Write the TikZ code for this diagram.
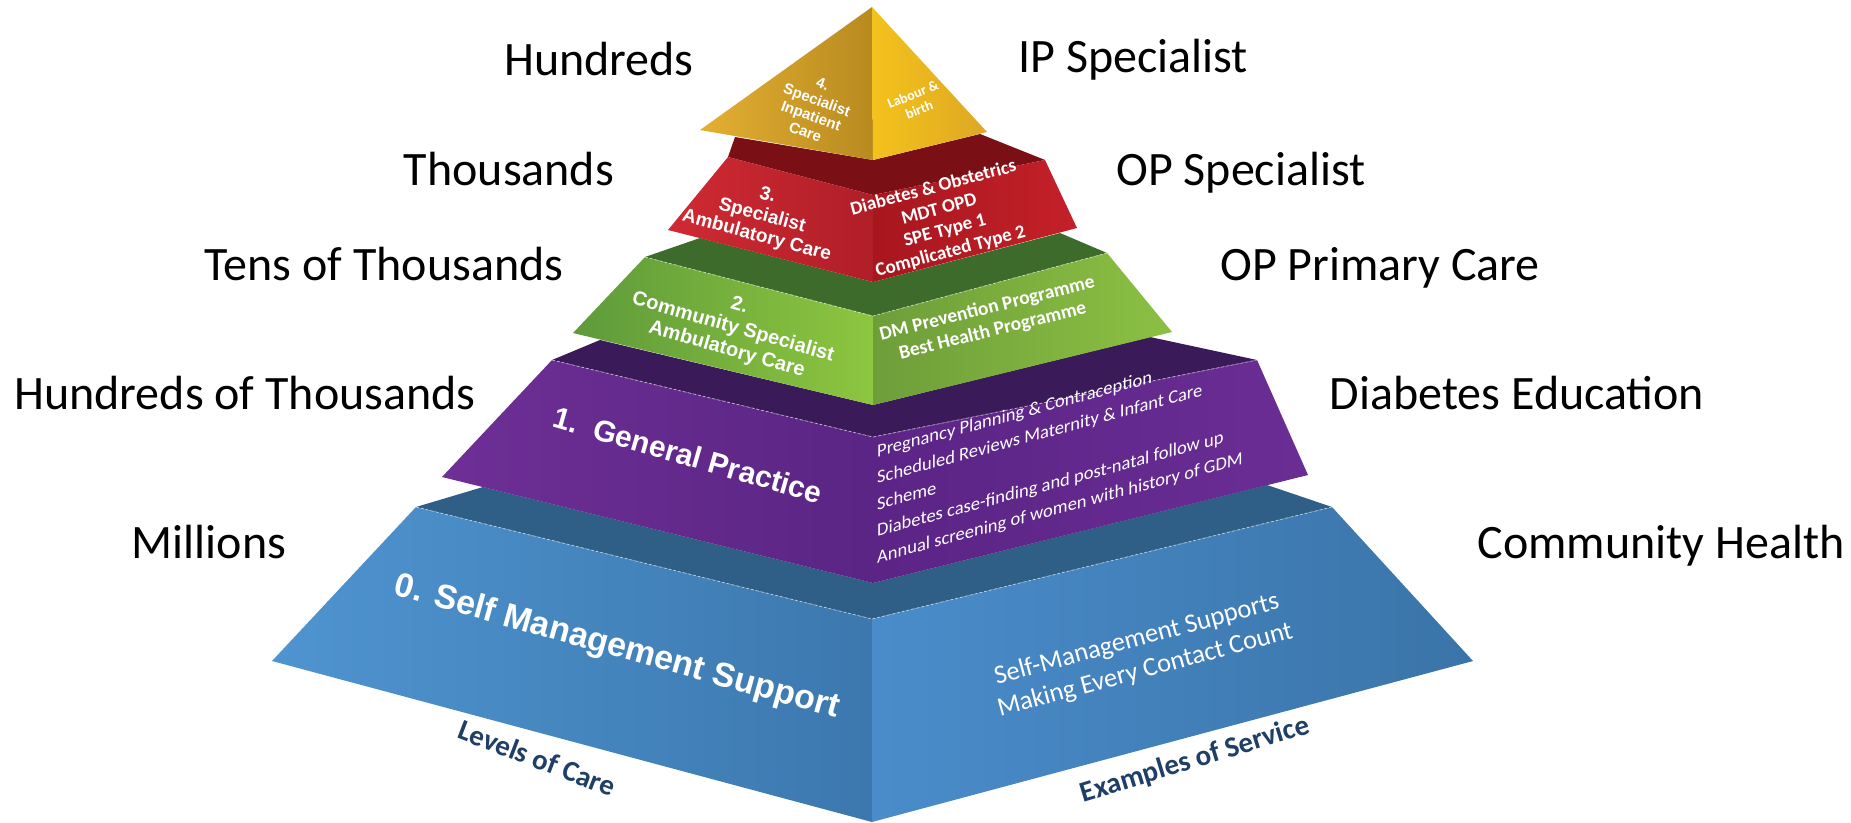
\documentclass[tikz,border=0pt]{standalone}
\usepackage{fontspec}
\setmainfont{Carlito}
\newfontfamily\arl{Liberation Sans}
\definecolor{yelLa}{HTML}{E4B032}\definecolor{yelLb}{HTML}{B88A1F}
\definecolor{yelRa}{HTML}{F4C21C}\definecolor{yelRb}{HTML}{DDA823}
\definecolor{redLa}{HTML}{D02A33}\definecolor{redLb}{HTML}{B01E28}
\definecolor{redRa}{HTML}{A8161E}\definecolor{redRb}{HTML}{C42129}
\definecolor{redS}{HTML}{7A1015}
\definecolor{grnLa}{HTML}{5E9A3A}\definecolor{grnLb}{HTML}{8DC63F}
\definecolor{grnRa}{HTML}{6E9E3A}\definecolor{grnRb}{HTML}{8BC043}
\definecolor{grnS}{HTML}{3D6B2C}
\definecolor{purLa}{HTML}{6E2F96}\definecolor{purLb}{HTML}{5A2584}
\definecolor{purRa}{HTML}{5B2486}\definecolor{purRb}{HTML}{6A2D94}
\definecolor{purS}{HTML}{3B1A5A}
\definecolor{bluLa}{HTML}{4F94D0}\definecolor{bluLb}{HTML}{3C78AE}
\definecolor{bluRa}{HTML}{4A8CCB}\definecolor{bluRb}{HTML}{3A74A8}
\definecolor{bluS}{HTML}{2F5E86}
\definecolor{darkTxt}{HTML}{1F3F66}
\begin{document}
\begin{tikzpicture}[x=1pt,y=-1pt,
  sidelabel/.style={font=\fontsize{48}{58}\selectfont, anchor=base, inner sep=0pt},
  facetext/.style={text=white, align=center, inner sep=0pt},
  basetext/.style={text=darkTxt, inner sep=0pt, font=\bfseries\fontsize{29}{32}\selectfont},
  edgeline/.style={draw=white, draw opacity=0.55, dashed, dash pattern=on 3pt off 2pt, line width=0.8pt}]
\useasboundingbox (0,0) rectangle (1851,822);
% ---------- coordinates ----------
\coordinate (Yap) at (872,7);
\coordinate (Yl) at (700,130);
\coordinate (Yd) at (873,160);
\coordinate (Yr) at (987,132);
\coordinate (R1) at (728,157);
\coordinate (Rc) at (873,195);
\coordinate (R2) at (1045,160);
\coordinate (R0) at (668,230);
\coordinate (Rd) at (873,282);
\coordinate (R3) at (1077,228);
\coordinate (RsL) at (735,137);
\coordinate (RsR) at (980,134);
\coordinate (G1) at (645,257);
\coordinate (Gc) at (873,316);
\coordinate (G2) at (1107,253);
\coordinate (G0) at (573,333);
\coordinate (Gd) at (873,405);
\coordinate (G3) at (1172,332);
\coordinate (GsL) at (700,238);
\coordinate (GsR) at (1060,233);
\coordinate (P1) at (552,360);
\coordinate (Pc) at (873,437);
\coordinate (P2) at (1257,360);
\coordinate (P0) at (442,477);
\coordinate (Pd) at (873,583);
\coordinate (P3) at (1308,475);
\coordinate (PsL) at (600,340);
\coordinate (PsR) at (1150,337);
\coordinate (B1) at (416,507);
\coordinate (Bc) at (872,619);
\coordinate (B2) at (1332,507);
\coordinate (B0) at (272,661);
\coordinate (Bd) at (872,822);
\coordinate (B3) at (1473,661);
\coordinate (BsL) at (483,487);
\coordinate (BsR) at (1267,485);
% ---------- blue ----------
\fill[bluS] (B1) -- (Bc) -- (B2) -- (BsR) -- (Pd) -- (BsL) -- cycle;
\shade[left color=bluLa, right color=bluLb] (B0) -- (B1) -- (Bc) -- (Bd) -- cycle;
\shade[left color=bluRa, right color=bluRb] (Bc) -- (B2) -- (B3) -- (Bd) -- cycle;
\path[edgeline] (B1) -- (Bc) -- (B2);
% ---------- purple ----------
\fill[purS] (P1) -- (Pc) -- (P2) -- (PsR) -- (Gd) -- (PsL) -- cycle;
\shade[left color=purLa, right color=purLb] (P0) -- (P1) -- (Pc) -- (Pd) -- cycle;
\shade[left color=purRa, right color=purRb] (Pc) -- (P2) -- (P3) -- (Pd) -- cycle;
\path[edgeline] (P1) -- (Pc) -- (P2);
% ---------- green ----------
\fill[grnS] (G1) -- (Gc) -- (G2) -- (GsR) -- (Rd) -- (GsL) -- cycle;
\shade[left color=grnLa, right color=grnLb] (G0) -- (G1) -- (Gc) -- (Gd) -- cycle;
\shade[left color=grnRa, right color=grnRb] (Gc) -- (G2) -- (G3) -- (Gd) -- cycle;
\path[edgeline] (G1) -- (Gc) -- (G2);
% ---------- red ----------
\fill[redS] (R1) -- (Rc) -- (R2) -- (RsR) -- (Yd) -- (RsL) -- cycle;
\shade[left color=redLa, right color=redLb] (R0) -- (R1) -- (Rc) -- (Rd) -- cycle;
\shade[left color=redRa, right color=redRb] (Rc) -- (R2) -- (R3) -- (Rd) -- cycle;
% ---------- yellow ----------
\shade[left color=yelLa, right color=yelLb] (Yl) -- (Yap) -- (Yd) -- cycle;
\shade[left color=yelRa, right color=yelRb] (Yap) -- (Yr) -- (Yd) -- cycle;
% ---------- face texts ----------
\node[facetext, font=\arl\bfseries\fontsize{15}{17}\selectfont, rotate=-20] (t4l) at (814,108) {4.\\Specialist\\Inpatient\\Care};
\node[facetext, font=\bfseries\fontsize{14}{16.5}\selectfont, rotate=22] (t4r) at (916,102) {Labour \&\\birth};
\node[facetext, font=\arl\bfseries\fontsize{19}{21}\selectfont, rotate=-15] (t3l) at (762,216) {3.\\Specialist\\Ambulatory Care};
\node[facetext, font=\bfseries\fontsize{19}{22}\selectfont, rotate=15] (t3r) at (942,220) {Diabetes \& Obstetrics\\MDT OPD\\SPE Type 1\\Complicated Type 2};
\node[facetext, font=\arl\bfseries\fontsize{20}{23}\selectfont, rotate=-16] (t2l) at (733,328) {2.\\Community Specialist\\Ambulatory Care};
\node[facetext, font=\bfseries\fontsize{19.5}{23}\selectfont, rotate=14] (t2r) at (990,320) {DM Prevention Programme\\Best Health Programme};
\node[facetext, font=\arl\bfseries\fontsize{30}{34}\selectfont, rotate=-16] (t1l) at (688,455) {1.~~General Practice};
\node[facetext, align=left, anchor=north west, font=\fontsize{18.5}{26.5}\selectfont, yslant=0.27] (t1r) at (877,444) {Pregnancy Planning \& Contraception\\Scheduled Reviews Maternity \& Infant Care\\Scheme\\Diabetes case-finding and post-natal follow up\\Annual screening of women with history of GDM};
\node[facetext, font=\arl\bfseries\fontsize{34}{38}\selectfont, rotate=-15.5] (t0l) at (617,648) {0. Self Management Support};
\node[facetext, font=\fontsize{26.5}{32}\selectfont, rotate=15] (t0r) at (1141,655) {Self-Management Supports\\Making Every Contact Count};
\node[basetext, rotate=-21] (loc) at (537,758) {Levels of Care};
\node[basetext, rotate=17] (eos) at (1195,760) {Examples of Service};
% ---------- side labels ----------
\node[sidelabel] (l4) at (599,75) {Hundreds};
\node[sidelabel] (l3) at (509,185) {Thousands};
\node[sidelabel] (l2) at (384,280) {Tens of Thousands};
\node[sidelabel] (l1) at (245,409) {Hundreds of Thousands};
\node[sidelabel] (l0) at (209,558) {Millions};
\node[sidelabel] (r4) at (1133,72) {IP Specialist};
\node[sidelabel] (r3) at (1241,185) {OP Specialist};
\node[sidelabel] (r2) at (1380,280) {OP Primary Care};
\node[sidelabel] (r1) at (1517,409) {Diabetes Education};
\node[sidelabel] (r0) at (1661,558) {Community Health};
\end{tikzpicture}
\end{document}
